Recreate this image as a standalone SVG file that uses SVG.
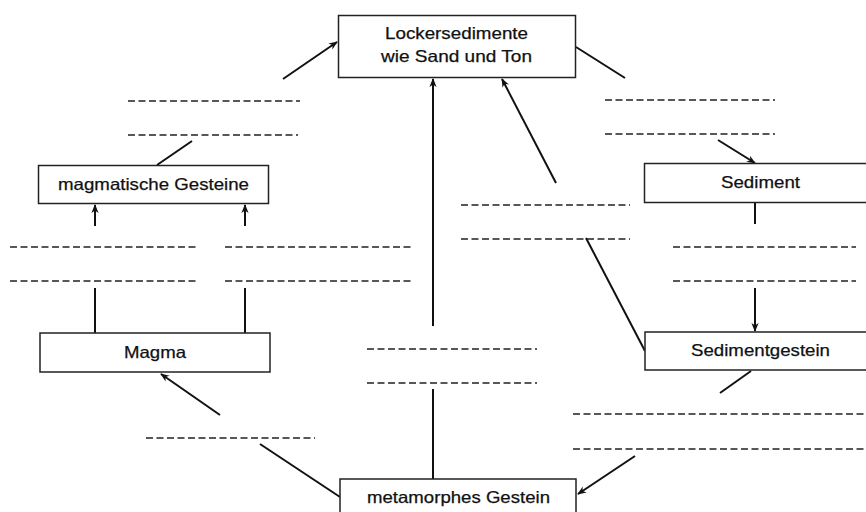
<svg xmlns="http://www.w3.org/2000/svg" width="866" height="512" viewBox="0 0 866 512">
<style>
.box{fill:#fff;stroke:#222;stroke-width:1.5}
.lbl{font-family:"Liberation Sans",Arial,sans-serif;font-size:16.5px;fill:#111;stroke:#111;stroke-width:0.25;text-anchor:middle}
.ln{stroke:#111;stroke-width:2;fill:none}
.ar{stroke:#111;stroke-width:2;fill:none;marker-end:url(#ah)}
.blank{stroke:#222;stroke-width:1.7;stroke-dasharray:7 3.5;fill:none}
</style>
<defs>
<marker id="ah" viewBox="0 0 10 10" refX="9" refY="5" markerWidth="9" markerHeight="9" orient="auto" markerUnits="userSpaceOnUse">
<path d="M0,1 L10,5 L0,9 L3,5 Z" fill="#111"/>
</marker>
</defs>
<rect width="866" height="512" fill="#fff"/>

<g id="blanks">
<line class="blank" x1="128" y1="101" x2="300" y2="101"/>
<line class="blank" x1="128" y1="135" x2="298" y2="135"/>
<line class="blank" x1="10" y1="247" x2="198" y2="247"/>
<line class="blank" x1="225" y1="247" x2="412" y2="247"/>
<line class="blank" x1="10" y1="281" x2="198" y2="281"/>
<line class="blank" x1="225" y1="281" x2="412" y2="281"/>
<line class="blank" x1="146" y1="438" x2="315" y2="438"/>
<line class="blank" x1="367" y1="349" x2="537" y2="349"/>
<line class="blank" x1="367" y1="383" x2="537" y2="383"/>
<line class="blank" x1="605" y1="100" x2="775" y2="100"/>
<line class="blank" x1="605" y1="134" x2="775" y2="134"/>
<line class="blank" x1="461" y1="205" x2="630" y2="205"/>
<line class="blank" x1="461" y1="239" x2="630" y2="239"/>
<line class="blank" x1="673" y1="247" x2="856" y2="247"/>
<line class="blank" x1="673" y1="281" x2="856" y2="281"/>
<line class="blank" x1="573" y1="414" x2="866" y2="414"/>
<line class="blank" x1="573" y1="449" x2="866" y2="449"/>
</g>

<g id="connectors">
<line class="ln" x1="157" y1="165" x2="192" y2="141"/>
<line class="ar" x1="283" y1="79" x2="337" y2="42"/>
<line class="ar" x1="95" y1="226" x2="95" y2="205"/>
<line class="ar" x1="245" y1="226" x2="245" y2="205"/>
<line class="ln" x1="95" y1="288" x2="95" y2="333"/>
<line class="ln" x1="245" y1="288" x2="245" y2="333"/>
<line class="ar" x1="220" y1="415" x2="161" y2="374"/>
<line class="ln" x1="260" y1="444" x2="340" y2="497"/>
<line class="ln" x1="433" y1="389" x2="433" y2="479"/>
<line class="ar" x1="433" y1="326" x2="433" y2="79"/>
<line class="ln" x1="576" y1="47" x2="625" y2="78"/>
<line class="ar" x1="718" y1="140" x2="755" y2="163"/>
<line class="ln" x1="755" y1="202" x2="755" y2="224"/>
<line class="ar" x1="755" y1="288" x2="755" y2="331"/>
<line class="ln" x1="586" y1="238" x2="645" y2="351"/>
<line class="ar" x1="556" y1="183" x2="502" y2="79"/>
<line class="ln" x1="751" y1="371" x2="720" y2="393"/>
<line class="ar" x1="635" y1="456" x2="578" y2="494"/>
</g>

<g id="lockersedimente">
<rect class="box" x="338.5" y="15.5" width="237" height="62"/>
<text class="lbl" x="456.5" y="39" textLength="143" lengthAdjust="spacingAndGlyphs">Lockersedimente</text>
<text class="lbl" x="456.5" y="62" textLength="151" lengthAdjust="spacingAndGlyphs">wie Sand und Ton</text>
</g>

<g id="magmatische-gesteine">
<rect class="box" x="38.5" y="165.5" width="230" height="38"/>
<text class="lbl" x="153.5" y="190" textLength="191" lengthAdjust="spacingAndGlyphs">magmatische Gesteine</text>
</g>

<g id="magma">
<rect class="box" x="40" y="333" width="230" height="39"/>
<text class="lbl" x="155" y="358" textLength="62" lengthAdjust="spacingAndGlyphs">Magma</text>
</g>

<g id="sediment">
<rect class="box" x="644.5" y="163.5" width="240" height="39"/>
<text class="lbl" x="760.5" y="188" textLength="79" lengthAdjust="spacingAndGlyphs">Sediment</text>
</g>

<g id="sedimentgestein">
<rect class="box" x="645" y="332" width="240" height="38"/>
<text class="lbl" x="760.5" y="356" textLength="139" lengthAdjust="spacingAndGlyphs">Sedimentgestein</text>
</g>

<g id="metamorphes-gestein">
<rect class="box" x="340" y="479" width="236" height="45"/>
<text class="lbl" x="458.5" y="503" textLength="183" lengthAdjust="spacingAndGlyphs">metamorphes Gestein</text>
</g>
</svg>
